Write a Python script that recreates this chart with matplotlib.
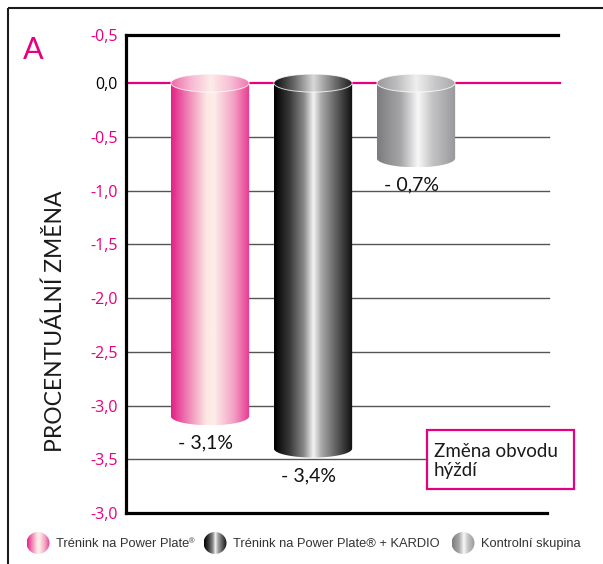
import numpy as np
import matplotlib
matplotlib.use('Agg')
import matplotlib.pyplot as plt
from matplotlib.path import Path
from matplotlib.patches import PathPatch, Ellipse, Rectangle
from matplotlib.colors import LinearSegmentedColormap

# data
groups = ['Trénink na Power Plate', 'Trénink na Power Plate® + KARDIO', 'Kontrolní skupina']
changes = [-3.1, -3.4, -0.7]
change_labels = ['- 3,1%', '- 3,4%', '- 0,7%']
tick_values = [0.447, 0.0, -0.5, -1.0, -1.5, -2.0, -2.5, -3.0, -3.5, -4.0]
tick_labels = ['-0,5', '0,0', '-0,5', '-1,0', '-1,5', '-2,0', '-2,5', '-3,0', '-3,5', '-3,0']
ylabel = 'PROCENTUÁLNÍ ZMĚNA'
note = 'Změna obvodu\nhýždí'

PINK = '#E6007E'
plt.rcParams['font.family'] = ['Lato', 'DejaVu Sans']

cmaps = [
    LinearSegmentedColormap.from_list('p', [(0, '#E51F86'), (0.2, '#EE7DB1'), (0.45, '#FDE8E4'),
                                            (0.55, '#FDEDE8'), (0.8, '#F29FC3'), (1, '#E83690')]),
    LinearSegmentedColormap.from_list('k', [(0, '#000000'), (0.2, '#3a3a3a'), (0.38, '#8a8a8a'),
                                            (0.5, '#f4f4f4'), (0.6, '#a9a9a9'), (0.8, '#5a5a5a'), (1, '#0d0d0d')]),
    LinearSegmentedColormap.from_list('g', [(0, '#7c7c7e'), (0.3, '#a6a6a8'), (0.52, '#f8f8f8'),
                                            (0.7, '#c4c4c6'), (1, '#98989a')]),
]
tops = [
    LinearSegmentedColormap.from_list('pt', ['#EE6AA6', '#F7B8D2', '#FDECE8', '#F7C0D6', '#EE75AC']),
    LinearSegmentedColormap.from_list('kt', ['#0a0a0a', '#666666', '#d8d8d8', '#777777', '#1a1a1a']),
    LinearSegmentedColormap.from_list('gt', ['#9a9a9c', '#bdbdbf', '#efefef', '#c6c6c8', '#a9a9ab']),
]

fig = plt.figure(figsize=(6.03, 5.64), dpi=100)

# overlay in pixel coords
ov = fig.add_axes([0, 0, 1, 1], zorder=0)
ov.set_xlim(0, 603)
ov.set_ylim(564, 0)
ov.axis('off')
ov.add_patch(Rectangle((8, 8), 620, 600, fill=False, ec='#1a1a1a', lw=1.5))
ov.text(33, 50, 'A', color=PINK, fontsize=22, ha='center', va='center')
ov.text(55, 321, ylabel, rotation=90, fontsize=16.5, color='#1a1a1a', ha='center', va='center')
ov.add_patch(Rectangle((427, 430), 147, 59, fc='white', ec=PINK, lw=1.6, zorder=3))
ov.text(434, 461, note, fontsize=13.5, color='#1a1a1a', ha='left', va='center', linespacing=1.2,
        zorder=4)

grad = np.linspace(0, 1, 256).reshape(1, -1)

# legend
leg_x = [38, 215, 463]
for i, (lx, name) in enumerate(zip(leg_x, groups)):
    el = Ellipse((lx, 543), 23, 22, fc='none', ec='none')
    ov.add_patch(el)
    im = ov.imshow(grad, cmap=cmaps[i], extent=(lx - 11.5, lx + 11.5, 554, 532), aspect='auto')
    im.set_clip_path(el)
    t = ov.text(lx + 18, 544, name, fontsize=9.3, color='#333333', ha='left', va='center',
                family=['Liberation Sans', 'DejaVu Sans'])
    if i == 0:
        ov.annotate('®', xy=(1, 1), xycoords=t, fontsize=5.5, color='#333333', ha='left', va='top',
                    family=['Liberation Sans', 'DejaVu Sans'])

# main axes
L, R, T, B = 126, 558, 35, 513
ax = fig.add_axes([L / 603, (564 - B) / 564, (R - L) / 603, (B - T) / 564], zorder=1)
ax.patch.set_alpha(0)
xs = np.arange(len(changes))
xlim = (-(210 - L) / 103, (R - 210) / 103)
ylim = (-4.0, 0.447)

# grid lines
for v in tick_values[2:-1]:
    xmax = 0.697 if v == -3.5 else 0.98
    ax.axhline(v, xmin=0, xmax=xmax, color='#555555', lw=1.0, zorder=1)
ax.axhline(0, xmin=0, xmax=1.005, color=PINK, lw=1.6, zorder=1, clip_on=False)

w = 0.76
hh = 0.084
for i, (x, v) in enumerate(zip(xs, changes)):
    xl, xr = x - w / 2, x + w / 2
    t = np.linspace(np.pi, 2 * np.pi, 80)
    verts = [(xl, 0)] + list(zip(x + w / 2 * np.cos(t), v + hh * np.sin(t))) + [(xr, 0), (xl, 0)]
    body = PathPatch(Path(verts), fc='none', ec='none')
    ax.add_patch(body)
    im = ax.imshow(grad, cmap=cmaps[i], extent=(xl, xr, v - hh, 0), aspect='auto', zorder=3)
    im.set_clip_path(body)
    top = Ellipse((x, 0), w, 2 * hh, fc='none', ec='none')
    ax.add_patch(top)
    im2 = ax.imshow(grad, cmap=tops[i], extent=(xl, xr, -hh, hh), aspect='auto', zorder=4)
    im2.set_clip_path(top)
    ax.add_patch(Ellipse((x, 0), w, 2 * hh, fc='none', ec='white', lw=0.7, alpha=0.8, zorder=5))
    ax.annotate(change_labels[i], xy=(x, v), xytext=(-3, -19.5), textcoords='offset points',
                ha='center', va='center', fontsize=14, color='#111111')

ax.set_xlim(xlim)
ax.set_ylim(ylim)
ax.set_xticks([])
ax.set_yticks(tick_values)
ax.set_yticklabels(tick_labels)
ax.tick_params(axis='y', length=0, pad=6)
for lbl in ax.get_yticklabels():
    lbl.set_fontfamily(['Open Sans', 'DejaVu Sans'])
    lbl.set_fontsize(11.5)
    lbl.set_color('black' if lbl.get_text() == '0,0' else PINK)
for s in ['left', 'top', 'bottom']:
    ax.spines[s].set_linewidth(2.3)
    ax.spines[s].set_color('black')
ax.spines['right'].set_visible(False)
ax.spines['bottom'].set_bounds(xlim[0], (547 - 210) / 103)

fig.savefig('out.png', dpi=100)
